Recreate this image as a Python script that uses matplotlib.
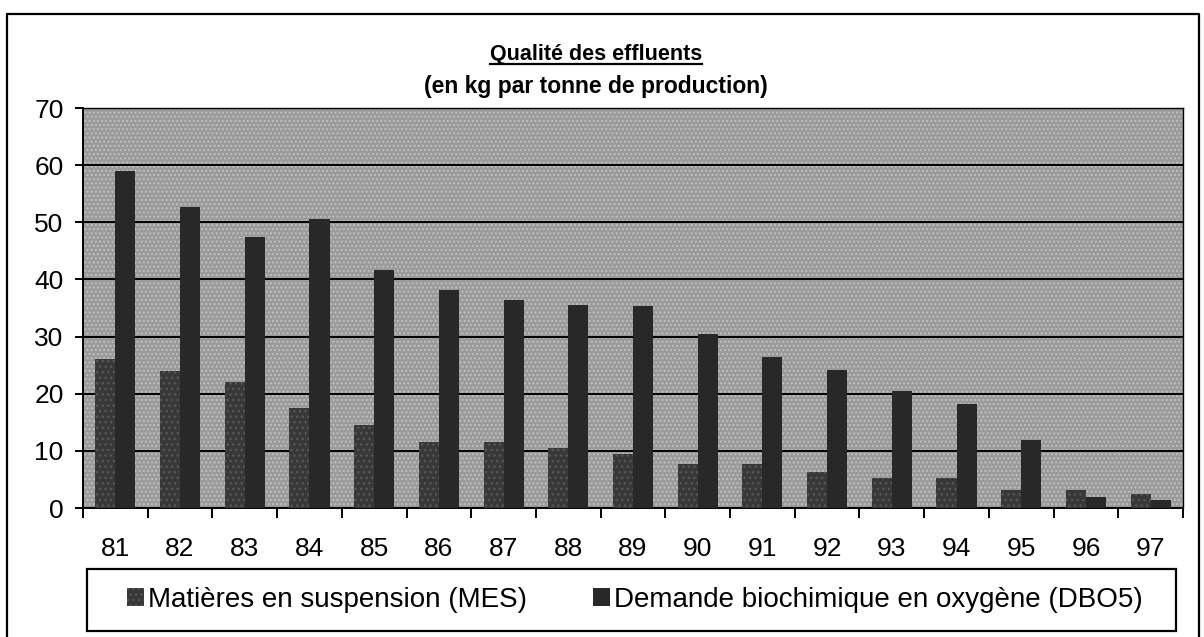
import numpy as np
import matplotlib
matplotlib.use("Agg")
import matplotlib.pyplot as plt
from matplotlib.patches import Rectangle, Patch
from matplotlib.lines import Line2D

plt.rcParams['font.family'] = ['Liberation Sans', 'DejaVu Sans']

# donnees
years = ['81', '82', '83', '84', '85', '86', '87', '88', '89',
         '90', '91', '92', '93', '94', '95', '96', '97']
mes = [26, 24, 22, 17.5, 14.5, 11.5, 11.5, 10.5, 9.5,
       7.7, 7.7, 6.3, 5.3, 5.3, 3.1, 3.1, 2.4]
dbo5 = [59, 52.6, 47.4, 50.6, 41.6, 38.2, 36.4, 35.6, 35.4,
        30.4, 26.4, 24.2, 20.4, 18.2, 11.9, 1.9, 1.4]
yticks = [0, 10, 20, 30, 40, 50, 60, 70]
labels = ['Matières en suspension (MES)', 'Demande biochimique en oxygène (DBO5)']

W, H = 1204, 637
fig = plt.figure(figsize=(W / 100, H / 100), dpi=100)
fig.patch.set_facecolor('white')

ax = fig.add_axes([83 / W, 1 - 508 / H, 1100 / W, 400 / H])
ax.set_facecolor('#9a9a9a')
ax.add_patch(Rectangle((0, 0), 1, 1, transform=ax.transAxes, fill=False,
                       hatch='....', edgecolor='#c0c0c0', lw=0, zorder=0.5))

x = np.arange(len(years))
w = 0.31
mes_col = '#383838'
dbo_col = '#282828'
ax.bar(x - w / 2, mes, w, color=mes_col, hatch='...', edgecolor='#575757',
       lw=0, zorder=3)
ax.bar(x + w / 2, dbo5, w, color=dbo_col, lw=0, zorder=3)

ax.set_xlim(-0.5, len(years) - 0.5)
ax.set_ylim(0, 70)
ax.set_yticks(yticks)
ax.yaxis.grid(True, color='black', lw=1.4, zorder=1)
ax.set_axisbelow(True)
for s in ax.spines.values():
    s.set_color('black')
    s.set_linewidth(1.0)
ax.spines['left'].set_linewidth(1.4)
ax.spines['bottom'].set_linewidth(1.4)

ax.set_xticks(x)
ax.set_xticklabels(years)
ax.set_xticks(np.arange(len(years) + 1) - 0.5, minor=True)
ax.tick_params(axis='x', which='major', length=0, pad=21, labelsize=19)
ax.tick_params(axis='x', which='minor', length=7, width=1.4, direction='out')
ax.tick_params(axis='y', length=6, width=1.4, pad=8, labelsize=19)

# titres
t1 = fig.text(596 / W, 1 - 60 / H, 'Qualité des effluents', ha='center',
              va='baseline', fontsize=15.5, fontweight='bold')
fig.text(596 / W, 1 - 93 / H, '(en kg par tonne de production)', ha='center',
         va='baseline', fontsize=16.5, fontweight='bold')
fig.canvas.draw()
bb = t1.get_window_extent()
fig.add_artist(Line2D([bb.x0 / W, bb.x1 / W], [1 - 64 / H, 1 - 64 / H],
                      transform=fig.transFigure, color='black', lw=1.6))

# legende
handles = [Patch(facecolor=mes_col, hatch='...', edgecolor='#575757', lw=0),
           Patch(facecolor=dbo_col, lw=0)]
fig.legend(handles, labels, loc='center', bbox_to_anchor=(635 / W, 1 - 600 / H),
           ncol=2, frameon=False, fontsize=20, handlelength=0.6,
           handleheight=0.6, handletextpad=0.15, columnspacing=2.4)
fig.add_artist(Rectangle((87 / W, 1 - 631 / H), (1176 - 87) / W, 62 / H,
                         transform=fig.transFigure, fill=False, lw=1.6,
                         ec='black'))

# cadre exterieur
fig.add_artist(Line2D([7 / W, 7 / W, 1199 / W, 1199 / W],
                      [0, 1 - 14 / H, 1 - 14 / H, 0],
                      transform=fig.transFigure, color='black', lw=1.6))

fig.savefig('out.png', dpi=100)
